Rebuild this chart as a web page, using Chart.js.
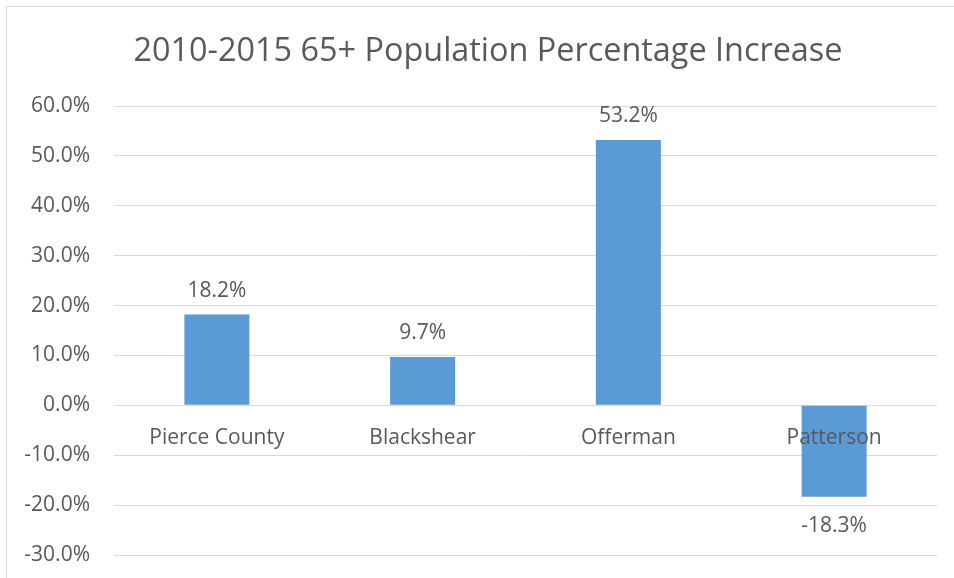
<!DOCTYPE html>
<html>
  <head>
    <title>65+ Population Change</title>
    <script src="https://cdn.jsdelivr.net/npm/chart.js@4.4.1/dist/chart.umd.min.js"></script>
    <style>
        body { margin: 0; overflow: hidden; background: #fff; }
        /* outer chart frame */
        .frame {
            position: absolute;
            left: 6px; top: 6px;
            width: 980px; height: 620px;
            border: 1px solid #d9d9d9;
        }
        .wrap {
            position: absolute;
            left: 0; top: 0;
            width: 954px; height: 578px;
        }
    </style>
  </head>
  <body>
    <div class="frame"></div>
    <div class="wrap">
        <canvas id="popChart"></canvas>
    </div>
    <script>
      // Chart data
      var chartTitle = "2010-2015 65+ Population Percentage Increase";
      var places = ["Pierce County", "Blackshear", "Offerman", "Patterson"];
      var pctIncrease = [18.2, 9.7, 53.2, -18.3];
      var yTicks = [-30, -20, -10, 0, 10, 20, 30, 40, 50, 60];

      var textColor = "#595959";
      var gridColor = "#d9d9d9";
      var fontFamily = "'Open Sans', sans-serif";

      function pct(v) {
        return v.toFixed(1) + "%";
      }

      // title sits a bit right of the canvas centre, so draw it ourselves
      var titleText = {
        id: "titleText",
        afterDraw: function(chart) {
          var ctx = chart.ctx;
          ctx.save();
          ctx.font = "32.4px " + fontFamily;
          ctx.fillStyle = textColor;
          ctx.textAlign = "center";
          ctx.textBaseline = "middle";
          ctx.fillText(chartTitle, 488, 52);
          ctx.restore();
        }
      };

      // value labels above / below each bar
      var valueLabels = {
        id: "valueLabels",
        afterDatasetsDraw: function(chart) {
          var ctx = chart.ctx;
          var meta = chart.getDatasetMeta(0);
          ctx.save();
          ctx.font = "21px " + fontFamily;
          ctx.fillStyle = textColor;
          ctx.textAlign = "center";
          ctx.textBaseline = "middle";
          meta.data.forEach(function(bar, i) {
            var v = pctIncrease[i];
            var y = v >= 0 ? bar.y - 24 : bar.y + 29;
            ctx.fillText(pct(v), bar.x, y);
          });
          ctx.restore();
        }
      };

      var ctx = document.getElementById("popChart").getContext("2d");
      var popChart = new Chart(ctx, {
        type: "bar",
        data: {
          labels: places,
          datasets: [{
            data: pctIncrease,
            backgroundColor: "#5b9bd5",
            borderWidth: 0,
            barPercentage: 0.316,
            categoryPercentage: 1
          }]
        },
        plugins: [titleText, valueLabels],
        options: {
          responsive: true,
          maintainAspectRatio: false,
          animation: false,
          layout: {
            padding: { left: 0, right: 17, top: 106, bottom: 23 }
          },
          plugins: {
            legend: { display: false },
            tooltip: { enabled: false },
            title: { display: false }
          },
          scales: {
            x: {
              // category names sit just under the zero line, drawn over the bars
              position: { y: 0 },
              grid: { display: false, drawTicks: false },
              border: { display: false },
              ticks: {
                z: 1,
                color: textColor,
                font: { family: fontFamily, size: 21 },
                padding: 20,
                maxRotation: 0,
                autoSkip: false
              }
            },
            y: {
              min: -30,
              max: 60,
              afterBuildTicks: function(axis) {
                axis.ticks = yTicks.map(function(v) { return { value: v }; });
              },
              afterFit: function(axis) {
                axis.width = 114;
              },
              // invisible tick marks keep the labels clear of the grid
              grid: {
                color: gridColor,
                lineWidth: 1,
                drawTicks: true,
                tickLength: 24,
                tickColor: "rgba(0,0,0,0)"
              },
              border: { display: false },
              ticks: {
                color: textColor,
                font: { family: fontFamily, size: 21 },
                padding: 0,
                callback: function(v) { return pct(v); }
              }
            }
          }
        }
      });
    </script>
  </body>
</html>
